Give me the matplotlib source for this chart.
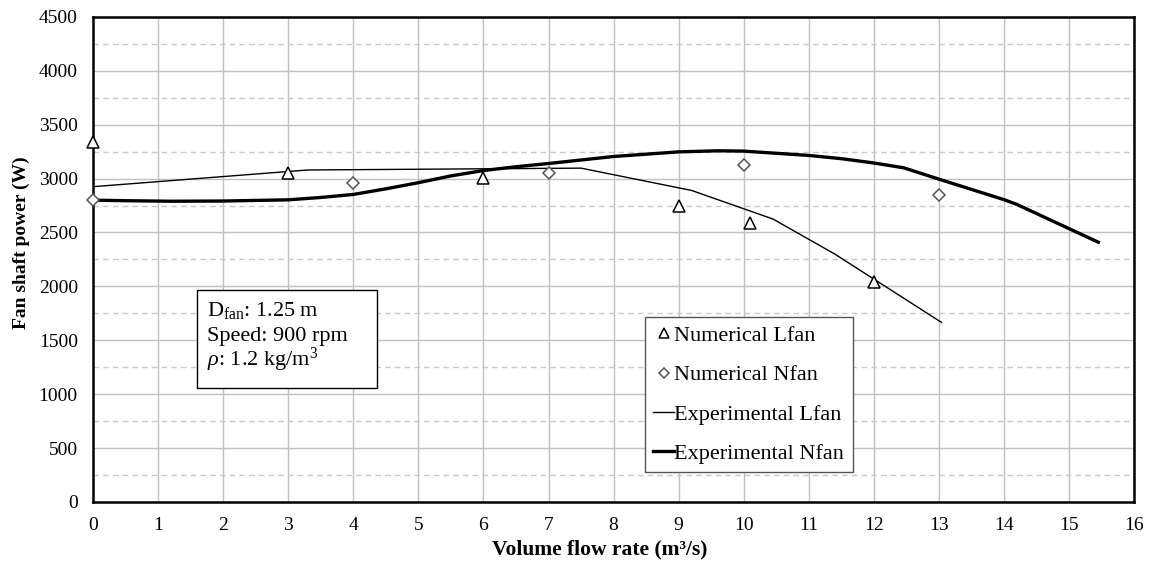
import matplotlib
matplotlib.use("Agg")
import matplotlib.pyplot as plt
from matplotlib.patches import Rectangle
from matplotlib.ticker import MultipleLocator

plt.rcParams['font.family'] = ['Liberation Serif', 'DejaVu Serif']
plt.rcParams['mathtext.fontset'] = 'custom'
plt.rcParams['mathtext.rm'] = 'Liberation Serif'
plt.rcParams['mathtext.it'] = 'Liberation Serif:italic'

# numerical results (markers)
num_l_x = [0, 3, 6, 9, 10.1, 12]
num_l_y = [3340, 3050, 3010, 2750, 2592, 2042]
num_n_x = [0, 4, 7, 10, 13]
num_n_y = [2800, 2955, 3050, 3125, 2850]

# experimental curves
exp_l_x = [0, 3.3, 7.5, 9.2, 10.45, 11.4, 13.04]
exp_l_y = [2925, 3080, 3097, 2890, 2625, 2300, 1666]
exp_n_x = [0, 0.5, 1.2, 2, 3, 3.5, 4, 4.5, 5, 5.5, 6, 6.5, 7, 8, 9, 9.6, 10,
           11, 11.5, 12, 12.46, 13, 13.5, 14, 14.2, 15.45]
exp_n_y = [2800, 2795, 2790, 2792, 2803, 2825, 2853, 2905, 2962, 3025, 3075,
           3110, 3140, 3205, 3248, 3258, 3255, 3215, 3185, 3145, 3100, 2995,
           2900, 2805, 2760, 2410]

info_lines = ['$\\mathrm{D_{fan}}$: 1.25 m', 'Speed: 900 rpm',
              '$\\mathit{\\rho}$: 1.2 kg/m$^3$']

fig = plt.figure(figsize=(11.49, 5.64), dpi=100)
ax = fig.add_axes([0.081, 0.110, 0.906, 0.860])

ax.plot(num_l_x, num_l_y, linestyle='none', marker='^', markersize=9,
        markerfacecolor='white', markeredgecolor='black', markeredgewidth=1.1,
        label='Numerical Lfan', zorder=4, clip_on=False)
ax.plot(num_n_x, num_n_y, linestyle='none', marker='D', markersize=6.5,
        markerfacecolor='white', markeredgecolor='#555555', markeredgewidth=1.1,
        label='Numerical Nfan', zorder=4, clip_on=False)
ax.plot(exp_l_x, exp_l_y, color='black', linewidth=1.0,
        label='Experimental Lfan', zorder=3)
ax.plot(exp_n_x, exp_n_y, color='black', linewidth=2.4,
        label='Experimental Nfan', zorder=3)

ax.set_xlim(0, 16)
ax.set_ylim(0, 4500)
ax.xaxis.set_major_locator(MultipleLocator(1))
ax.yaxis.set_major_locator(MultipleLocator(500))
ax.yaxis.set_minor_locator(MultipleLocator(250))
ax.grid(which='major', color='#c0c0c0', linewidth=1.0)
ax.grid(which='minor', axis='y', color='#c8c8c8', linewidth=1.0, linestyle=(0, (4, 3)))
ax.set_axisbelow(True)
ax.tick_params(which='both', length=0, labelsize=14, pad=11)
for s in ax.spines.values():
    s.set_linewidth(1.8)
    s.set_color('black')

ax.set_xlabel('Volume flow rate (m³/s)', fontsize=15.5, fontweight='bold')
ax.set_ylabel('Fan shaft power (W)', fontsize=14, fontweight='bold')
ax.xaxis.set_label_coords(0.487, -0.078)
ax.yaxis.set_label_coords(-0.0605, 0.535)

# info box
ax.add_patch(Rectangle((0.0999, 0.235), 0.173, 0.202, transform=ax.transAxes,
                       facecolor='white', edgecolor='black', linewidth=1.0, zorder=5))
for i, line in enumerate(info_lines):
    ax.text(0.1095, 0.383 - i * 0.0515, line, transform=ax.transAxes,
            fontsize=16, va='baseline', ha='left', zorder=6)

leg = ax.legend(loc='upper left', bbox_to_anchor=(0.530, 0.381), fontsize=16,
                frameon=True, fancybox=False, edgecolor='#555555', framealpha=1,
                borderaxespad=0, handlelength=0.95, handletextpad=0.0,
                labelspacing=0.84, borderpad=0.38, markerscale=0.75)
leg.get_frame().set_linewidth(1.0)
leg.set_zorder(6)

fig.savefig('out.png', dpi=100)
